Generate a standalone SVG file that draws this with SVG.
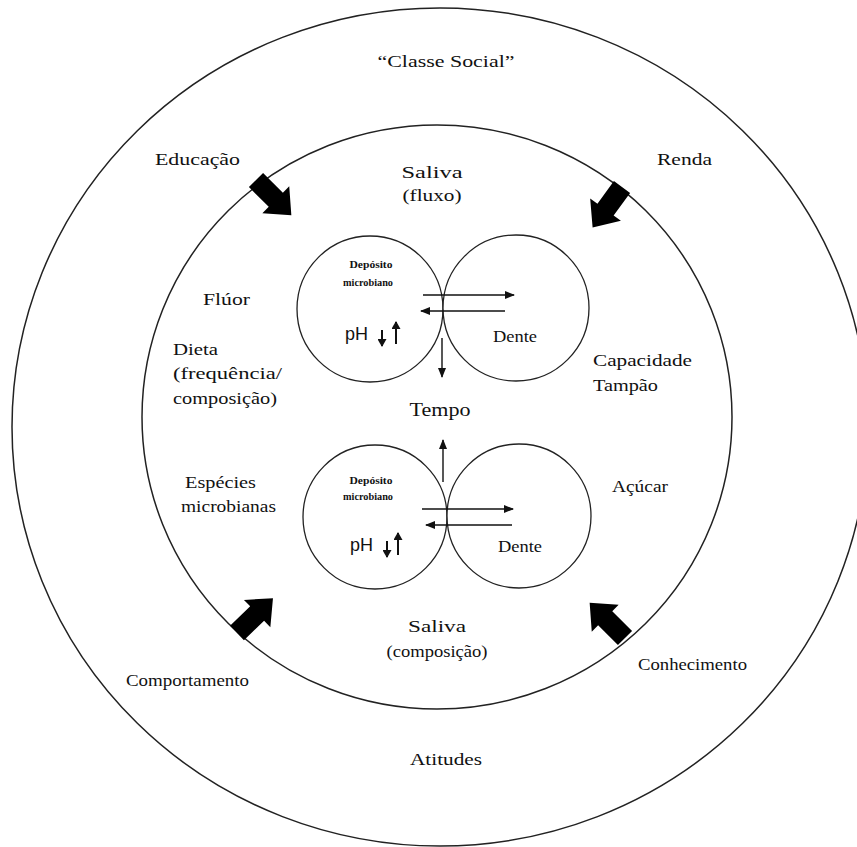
<svg xmlns="http://www.w3.org/2000/svg" width="857" height="847" viewBox="0 0 857 847">
<style>
.ring{fill:none;stroke:#222;stroke-width:1.5}
.cell{fill:#fff;stroke:#222;stroke-width:1.3}
.lbl{font-family:"Liberation Serif","Times New Roman",serif;font-size:17.5px;fill:#111}
.big{font-size:19px}
.tiny{font-family:"Liberation Serif",serif;font-size:9.5px;font-weight:bold;fill:#111}
.ph{font-family:"Liberation Sans",Arial,sans-serif;font-size:18px;fill:#111}
.thin{stroke:#111;stroke-width:1.4;fill:none;marker-end:url(#ah)}
.phar{stroke:#111;stroke-width:2;fill:none;marker-end:url(#ahs)}
.fat{fill:#000}
</style>
<defs>
<marker id="ah" viewBox="0 0 10 8" refX="9" refY="4" markerWidth="10" markerHeight="8" markerUnits="userSpaceOnUse" orient="auto">
<path d="M0,0 L10,4 L0,8 Z" fill="#111"/>
</marker>
<marker id="ahs" viewBox="0 0 8 9" refX="7" refY="4.5" markerWidth="8" markerHeight="9" markerUnits="userSpaceOnUse" orient="auto">
<path d="M0,0 L8,4.5 L0,9 Z" fill="#111"/>
</marker>
<path id="fatArrow" d="M0,-10 L28,-10 L28,-19 L50,0 L28,19 L28,10 L0,10 Z"/>
</defs>
<rect width="857" height="847" fill="#fff"/>

<g id="outer-ring">
<ellipse class="ring" cx="440" cy="427" rx="428" ry="419"/>
<text class="lbl" x="446" y="67" text-anchor="middle" textLength="137" lengthAdjust="spacingAndGlyphs">“Classe Social”</text>
<text class="lbl" x="155" y="165" textLength="85" lengthAdjust="spacingAndGlyphs">Educação</text>
<text class="lbl" x="657" y="165" textLength="55" lengthAdjust="spacingAndGlyphs">Renda</text>
<text class="lbl" x="126" y="686" textLength="123" lengthAdjust="spacingAndGlyphs">Comportamento</text>
<text class="lbl" x="638" y="670" textLength="109" lengthAdjust="spacingAndGlyphs">Conhecimento</text>
<text class="lbl" x="446" y="765" text-anchor="middle" textLength="72" lengthAdjust="spacingAndGlyphs">Atitudes</text>
</g>

<g id="inner-ring">
<ellipse class="ring" cx="437" cy="417" rx="295" ry="292"/>
<text class="lbl" x="432" y="178" text-anchor="middle" textLength="61" lengthAdjust="spacingAndGlyphs">Saliva</text>
<text class="lbl" x="432" y="201" text-anchor="middle" textLength="59" lengthAdjust="spacingAndGlyphs">(fluxo)</text>
<text class="lbl" x="203" y="305" textLength="47" lengthAdjust="spacingAndGlyphs">Flúor</text>
<text class="lbl" x="173" y="355" textLength="45" lengthAdjust="spacingAndGlyphs">Dieta</text>
<text class="lbl" x="173" y="379" textLength="109" lengthAdjust="spacingAndGlyphs">(frequência/</text>
<text class="lbl" x="173" y="404" textLength="104" lengthAdjust="spacingAndGlyphs">composição)</text>
<text class="lbl" x="593" y="366" textLength="99" lengthAdjust="spacingAndGlyphs">Capacidade</text>
<text class="lbl" x="593" y="391" textLength="65" lengthAdjust="spacingAndGlyphs">Tampão</text>
<text class="lbl big" x="440" y="416" text-anchor="middle" textLength="61" lengthAdjust="spacingAndGlyphs">Tempo</text>
<text class="lbl" x="612" y="492" textLength="56" lengthAdjust="spacingAndGlyphs">Açúcar</text>
<text class="lbl" x="185" y="488" textLength="71" lengthAdjust="spacingAndGlyphs">Espécies</text>
<text class="lbl" x="181" y="512" textLength="95" lengthAdjust="spacingAndGlyphs">microbianas</text>
<text class="lbl" x="437" y="632" text-anchor="middle" textLength="58" lengthAdjust="spacingAndGlyphs">Saliva</text>
<text class="lbl" x="437" y="657" text-anchor="middle" textLength="101" lengthAdjust="spacingAndGlyphs">(composição)</text>
</g>

<g id="top-biofilm">
<circle class="cell" cx="370" cy="309" r="73"/>
<text class="tiny" x="371" y="268" text-anchor="middle" textLength="43" lengthAdjust="spacingAndGlyphs">Depósito</text>
<text class="tiny" x="368" y="286" text-anchor="middle" textLength="50" lengthAdjust="spacingAndGlyphs">microbiano</text>
<text class="ph" x="345" y="340">pH</text>
</g>
<g id="top-tooth">
<circle class="cell" cx="516" cy="308" r="73"/>
<text class="lbl" x="493" y="342" textLength="44" lengthAdjust="spacingAndGlyphs">Dente</text>
</g>

<g id="bottom-biofilm">
<circle class="cell" cx="375" cy="517" r="72"/>
<text class="tiny" x="371" y="484" text-anchor="middle" textLength="43" lengthAdjust="spacingAndGlyphs">Depósito</text>
<text class="tiny" x="368" y="500" text-anchor="middle" textLength="50" lengthAdjust="spacingAndGlyphs">microbiano</text>
<text class="ph" x="350" y="551">pH</text>
</g>
<g id="bottom-tooth">
<circle class="cell" cx="519" cy="516" r="72"/>
<text class="lbl" x="498" y="552" textLength="44" lengthAdjust="spacingAndGlyphs">Dente</text>
</g>

<g id="connectors">
<line class="thin" x1="423" y1="295" x2="514" y2="295"/>
<line class="thin" x1="505" y1="311" x2="421" y2="311"/>
<line class="thin" x1="442" y1="338" x2="442" y2="377"/>
<line class="phar" x1="382" y1="330" x2="382" y2="346"/>
<line class="phar" x1="396" y1="344" x2="396" y2="322"/>

<line class="thin" x1="443" y1="482" x2="443" y2="440"/>
<line class="thin" x1="422" y1="509" x2="513" y2="509"/>
<line class="thin" x1="512" y1="525" x2="426" y2="525"/>
<line class="phar" x1="387" y1="541" x2="387" y2="557"/>
<line class="phar" x1="398" y1="555" x2="398" y2="533"/>

<use class="fat" href="#fatArrow" transform="translate(256,180) rotate(45)"/>
<use class="fat" href="#fatArrow" transform="translate(622,187) rotate(126)"/>
<use class="fat" href="#fatArrow" transform="translate(237,633) rotate(-44)"/>
<use class="fat" href="#fatArrow" transform="translate(625,638) rotate(-135)"/>
</g>
</svg>
